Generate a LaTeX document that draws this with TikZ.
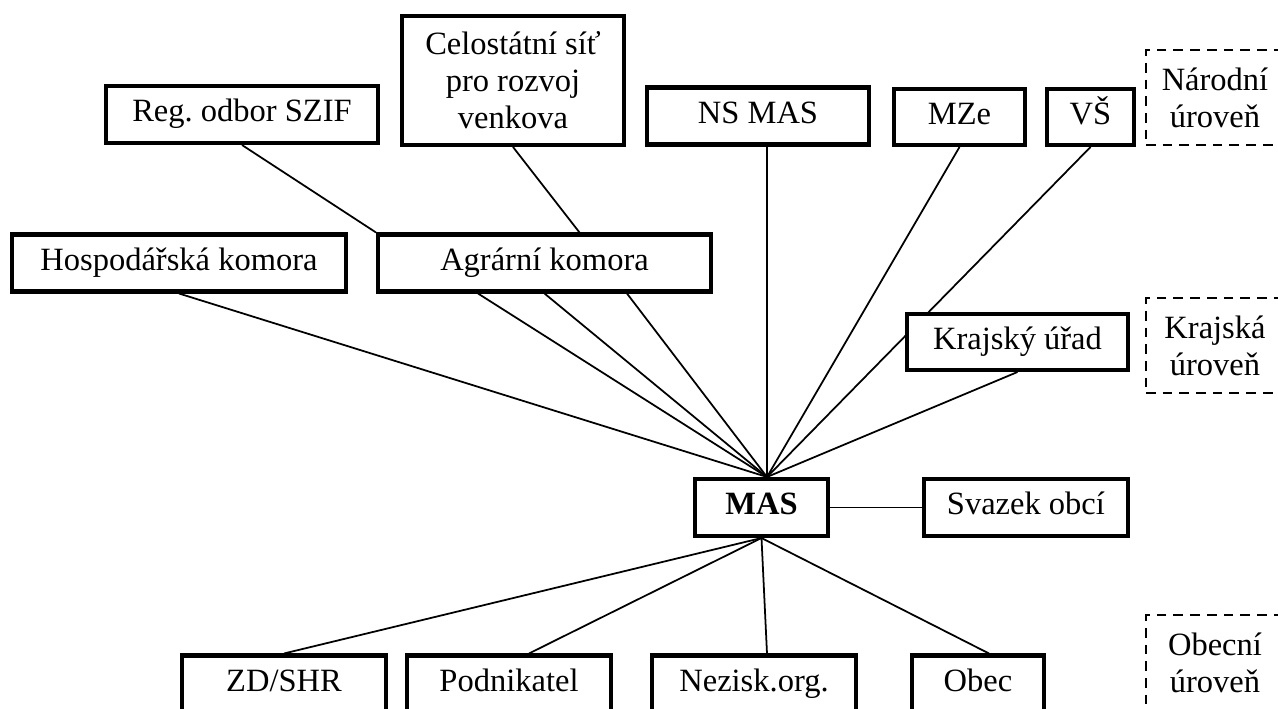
\documentclass[tikz,border=0pt]{standalone}
\usepackage{fontspec}
\setmainfont{Liberation Serif}
\usetikzlibrary{positioning, backgrounds}
\tikzstyle{box} = [rectangle, draw, line width=2.3pt, fill=white, text centered, inner sep=0pt, minimum height=1.14cm, font=\fontsize{18.5}{21}\selectfont]
\tikzstyle{unit} = [box, text height=12.5pt, text depth=4.5pt]
\tikzstyle{level} = [rectangle, draw, line width=1.1pt, dash pattern=on 5.5pt off 4pt, align=center, inner sep=0pt, minimum width=2.76cm, minimum height=1.9cm, font=\fontsize{18.5}{21}\selectfont]
\tikzstyle{link} = [line width=1pt]

\begin{document}
\frenchspacing
\begin{tikzpicture}[x=0.02cm, y=-0.02cm, node distance=2cm]

    \useasboundingbox (0,0) rectangle (1278,709);
    \clip (0,0) rectangle (1278,709);

    % National level
    \node (szif) [unit, minimum width=5.44cm] at (242,114.5) {Reg. odbor SZIF};
    \node (sit) [box, minimum width=4.44cm, minimum height=2.58cm, align=center] at (513,80.5) {Celostátní síť\\pro rozvoj\\venkova};
    \node (nsmas) [unit, minimum width=4.44cm] at (758,116) {NS MAS};
    \node (mze) [unit, minimum width=2.62cm, minimum height=1.12cm] at (959.5,117) {MZe};
    \node (vs) [unit, minimum width=1.74cm, minimum height=1.12cm] at (1090.5,117) {VŠ};
    \node (narodni) [level] at (1215,97.5) {Národní\\úroveň};

    % Regional level
    \node (hk) [unit, minimum width=6.68cm] at (179,263) {Hospodářská komora};
    \node (ak) [unit, minimum width=6.66cm] at (544.5,263) {Agrární komora};
    \node (ku) [unit, minimum width=4.42cm, minimum height=1.12cm] at (1017.5,342) {Krajský úřad};
    \node (krajska) [level] at (1215,345.5) {Krajská\\úroveň};

    % MAS
    \node (mas) [unit, minimum width=2.66cm, font=\fontsize{18.5}{21}\selectfont\bfseries] at (761.5,507.5) {MAS};
    \node (svazek) [unit, minimum width=4.08cm, right of=mas, xshift=3.29cm] {Svazek obcí};

    % Local level
    \node (zd) [unit, minimum width=4.08cm] at (284,684) {ZD/SHR};
    \node (podnik) [unit, minimum width=4.08cm] at (509,684) {Podnikatel};
    \node (nno) [unit, minimum width=4.08cm] at (754,684) {Nezisk.org.};
    \node (obec) [unit, minimum width=2.64cm] at (978,684) {Obec};
    \node (obecni) [level] at (1215,662.5) {Obecní\\úroveň};

    % ==== Links
    \coordinate (hub) at ([xshift=0.11cm]mas.north);
    \begin{pgfonlayer}{background}
    % upper levels
    \draw [link] (szif.south) -- (ak.north west);
    \draw [link] (sit.south) -- ([xshift=0.7cm]ak.north);
    \draw [link] (hk.south) -- (hub);
    \draw [link] ([xshift=-1.33cm]ak.south) -- (hub);
    \draw [link] (ak.south) -- (hub);
    \draw [link] ([xshift=1.65cm]ak.south) -- (hub);
    \draw [link] (nsmas.south -| hub) -- (hub);
    \draw [link] (mze.south) -- (hub);
    \draw [link] (vs.south) -- (hub);
    \draw [link] (ku.south) -- (hub);
    \draw [link] (mas) -- (svazek);

    % local level
    \draw [link] (mas.south) -- (zd.north);
    \draw [link] (mas.south) -- ([xshift=0.4cm]podnik.north);
    \draw [link] (mas.south) -- ([xshift=0.26cm]nno.north);
    \draw [link] (mas.south) -- ([xshift=0.22cm]obec.north);
    \end{pgfonlayer}

\end{tikzpicture}
\end{document}
